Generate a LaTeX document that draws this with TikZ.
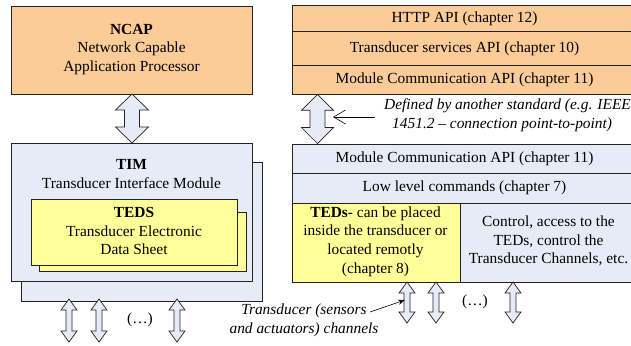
\documentclass[tikz,border=0pt]{standalone}
\usepackage{fontspec}
\setmainfont{Liberation Serif}
\usetikzlibrary{arrows.meta}
\definecolor{orangef}{RGB}{251,203,152}
\definecolor{bluef}{RGB}{230,235,245}
\definecolor{yellowf}{RGB}{255,255,153}
\definecolor{edgec}{RGB}{35,35,35}
\tikzset{
 box/.style={draw=edgec, line width=0.8bp, inner sep=0pt, outer sep=0pt, anchor=north west},
 obox/.style={box, fill=orangef},
 bbox/.style={box, fill=bluef},
 ybox/.style={box, fill=yellowf},
 txt/.style={font=\fontsize{15.4bp}{18.6bp}\selectfont, align=center, inner sep=0pt},
 itxt/.style={font=\fontsize{15.4bp}{18.6bp}\selectfont\itshape, inner sep=0pt},
 barrow/.style={draw=edgec, line width=0.7bp, fill=bluef},
 pointer/.style={draw=black, line width=0.6bp},
}
% #1 x centre, #2 y top, #3 y bottom, #4 half head width, #5 half shaft width, #6 head length
\newcommand{\dblarr}[6]{%
 \draw[barrow] (#1,#2) -- (#1+#4,#2+#6) -- (#1+#5,#2+#6) -- (#1+#5,#3-#6) -- (#1+#4,#3-#6)
  -- (#1,#3) -- (#1-#4,#3-#6) -- (#1-#5,#3-#6) -- (#1-#5,#2+#6) -- (#1-#4,#2+#6) -- cycle;}
\begin{document}
\begin{tikzpicture}[x=1bp,y=-1bp]
\useasboundingbox (0,0) rectangle (631,345);
\fill[white] (0,0) rectangle (631,345);

% ---------- left side ----------
\node[obox, minimum width=241bp, minimum height=88bp] (ncap) at (11,6) {};
\node[txt] (ncapt) at (131.5,49.5) {\textbf{NCAP}\\Network Capable\\Application Processor};

\dblarr{132}{94}{143}{16.5}{7.5}{16}

\node[bbox, minimum width=241bp, minimum height=139bp] (timback) at (21,162) {};
\node[bbox, minimum width=241bp, minimum height=138bp] (tim) at (11,143) {};
\node[txt] (timt) at (131.5,174) {\textbf{TIM}\\Transducer Interface Module};

\node[ybox, minimum width=207bp, minimum height=59bp] (tedsback) at (39,212) {};
\node[ybox, minimum width=206bp, minimum height=66bp] (teds) at (31,199) {};
\node[txt] (tedst) at (134,231) {\textbf{TEDS}\\Transducer Electronic\\Data Sheet};

\dblarr{69}{299}{342}{8}{3}{11}
\dblarr{99}{299}{342}{8}{3}{11}
\dblarr{177}{299}{342}{8}{3}{11}
\node[txt] (dotsl) at (140,320) {(…)};

% ---------- right side ----------
\node[obox, minimum width=345bp, minimum height=26.4bp] (http) at (292,5.3) {};
\node[obox, minimum width=345bp, minimum height=34bp] (tsapi) at (292,31.7) {};
\node[obox, minimum width=345bp, minimum height=28.6bp] (mcapi) at (292,65.7) {};
\node[txt] at (http.center) {HTTP API (chapter 12)};
\node[txt] at (tsapi.center) {Transducer services API (chapter 10)};
\node[txt] at (mcapi.center) {Module Communication API (chapter 11)};

\dblarr{317.5}{94.3}{143.5}{16}{7.5}{16}

\node[itxt, align=left, anchor=west] (def) at (384,115.5)
 {Defined by another standard (e.g. IEEE\\\hspace*{8bp}1451.2 – connection point-to-point)};
\coordinate (dstart) at (375,117);
\coordinate (dtip) at (333,117);
\draw[pointer, -{Straight Barb[length=12bp,width=14bp]}] (dstart) -- (dtip);

\node[bbox, minimum width=345bp, minimum height=29bp] (mcapi2) at (292,144) {};
\node[bbox, minimum width=345bp, minimum height=30bp] (llc) at (292,173) {};
\node[ybox, minimum width=168bp, minimum height=79bp] (tedcell) at (292,203) {};
\node[bbox, minimum width=177bp, minimum height=79bp] (ctrl) at (460,203) {};
\node[txt] at (mcapi2.center) {Module Communication API (chapter 11)};
\node[txt] at (llc.center) {Low level commands (chapter 7)};
\node[txt] (tedct) at (375.5,241.5) {\textbf{TEDs}- can be placed\\inside the transducer or\\located remotly\\(chapter 8)};
\node[txt] (ctrlt) at (548.5,241) {Control, access to the\\TEDs, control the\\Transducer Channels, etc.};

\dblarr{407}{282}{323}{8}{3}{11}
\dblarr{436}{282}{323}{8}{3}{11}
\dblarr{513}{282}{323}{8}{3}{11}
\node[txt] (dotsr) at (475,302) {(…)};

\node[itxt, align=center] (chan) at (304,320) {Transducer (sensors\\and actuators) channels};
\coordinate (cstart) at (370,312);
\coordinate (ctip) at (405,300);
\draw[pointer, -{Stealth[length=7bp,width=5bp]}] (cstart) -- (ctip);
\end{tikzpicture}
\end{document}
